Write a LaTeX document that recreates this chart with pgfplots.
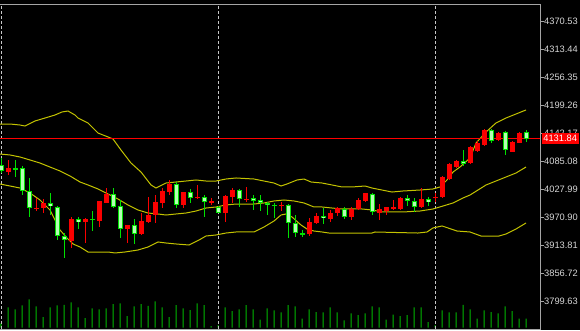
\documentclass[border=0pt]{standalone}
\usepackage{pgfplots}
\pgfplotsset{compat=1.18}
\usepackage{pgfplotstable}
\usepackage{fontspec}
\setmainfont{Liberation Sans}
\definecolor{bandc}{RGB}{195,195,0}
\definecolor{bullc}{RGB}{250,0,0}
\definecolor{bearc}{RGB}{0,225,0}
\definecolor{bearin}{RGB}{180,255,180}
\definecolor{volc}{RGB}{0,185,0}
\definecolor{framec}{RGB}{165,165,165}
\definecolor{labc}{RGB}{215,215,215}
\definecolor{gridc}{RGB}{200,200,200}

% bullish candles (open < close): i open high low close
\pgfplotstableread{
i o h l c
1 4063.3 4087.9 4057.2 4071.5
5 3987.7 4010.2 3983.6 3989.8
6 3989.8 4008.1 3979.5 4000.0
10 3922.3 3971.4 3908.0 3967.3
12 3961.1 3969.3 3918.2 3967.3
14 3963.2 4004.1 3950.9 4004.1
15 4000.0 4030.6 4000.0 4018.4
18 3946.8 3955.0 3918.2 3955.0
20 3936.6 3979.5 3934.6 3963.2
21 3961.1 4012.2 3959.1 3975.4
22 3975.4 4016.3 3959.1 4002.0
23 4000.0 4030.6 3989.8 4024.5
24 4022.5 4047.0 4016.3 4038.8
26 3995.9 4022.5 3989.8 4022.5
28 4011.2 4036.8 4008.1 4012.2
30 4002.0 4009.2 3995.9 4003.0
32 3979.5 4016.3 3961.1 4013.3
33 4012.2 4030.6 4000.0 4026.5
35 4007.1 4032.7 4002.0 4008.1
40 3994.9 4002.0 3983.6 3995.9
44 3936.6 3968.3 3932.5 3961.1
45 3959.1 3979.5 3957.0 3973.4
47 3967.3 3985.7 3961.1 3979.5
48 3978.5 3992.8 3973.4 3989.8
50 3971.4 3991.8 3964.2 3987.7
51 3987.7 4010.2 3985.7 4006.1
52 4004.1 4021.4 4003.0 4019.4
54 3979.5 3997.9 3965.2 3986.7
55 3983.6 3991.8 3975.4 3991.8
56 3987.7 4006.1 3985.7 3991.8
57 3987.7 4012.2 3985.7 4010.2
60 3991.8 4030.6 3989.8 4008.1
62 4011.2 4020.4 4002.0 4012.2
63 4012.2 4055.2 4011.2 4052.1
64 4049.0 4081.7 4047.0 4078.7
65 4073.6 4087.9 4071.5 4086.8
67 4081.7 4116.5 4079.7 4114.4
68 4106.3 4125.7 4104.2 4122.6
69 4118.5 4151.2 4116.5 4149.2
71 4128.7 4146.1 4126.7 4143.1
73 4105.2 4127.7 4103.2 4124.7
74 4122.6 4145.1 4121.6 4143.1
}\upc

% bearish candles (open > close)
\pgfplotstableread{
i o h l c
0 4077.6 4092.0 4061.3 4065.4
2 4070.5 4087.9 4053.1 4068.4
3 4071.5 4075.6 4016.3 4024.5
4 4024.5 4051.1 3971.4 3989.8
7 4000.0 4020.4 3975.4 3993.8
8 3991.8 3993.8 3924.3 3932.5
9 3932.5 3938.7 3887.6 3924.3
11 3967.3 3971.4 3946.8 3961.1
13 3967.3 3983.6 3942.7 3965.2
16 4018.4 4030.6 3989.8 3991.8
17 3993.8 4006.1 3928.4 3946.8
19 3955.0 3967.3 3916.2 3936.6
25 4038.8 4042.9 3989.8 3995.9
27 4022.5 4028.6 4000.0 4011.2
29 4012.2 4016.3 3971.4 4002.0
31 3991.8 3993.8 3978.5 3979.5
34 4026.5 4029.6 3991.8 4008.1
36 4010.2 4016.3 3985.7 4004.1
37 4006.1 4016.3 3982.6 4000.0
38 3999.0 4002.0 3975.4 3994.9
39 3995.9 3999.0 3970.3 3994.9
41 3995.9 3996.9 3928.4 3958.1
42 3959.1 3975.4 3930.5 3938.7
43 3938.7 3944.8 3930.5 3935.6
46 3973.4 3989.8 3957.0 3968.3
49 3988.7 3992.8 3967.3 3971.4
53 4018.4 4020.4 3975.4 3980.6
58 4010.2 4016.3 3993.8 4004.1
59 4004.1 4010.2 3981.6 3991.8
61 4008.1 4012.2 3993.8 4002.0
66 4086.8 4109.3 4074.6 4080.7
70 4149.2 4152.2 4122.6 4127.7
72 4144.1 4147.1 4098.1 4107.3
75 4144.1 4148.2 4124.7 4131.8
}\dnc

% tick volume
\pgfplotstableread{
i v
0 130
1 610
2 550
3 670
4 850
5 640
6 320
7 610
8 670
9 690
10 760
11 610
12 290
13 580
14 550
15 580
16 710
17 730
18 350
19 640
20 710
21 660
22 790
23 610
24 320
25 680
26 580
27 530
28 730
29 680
30 50
31 80
32 610
33 500
34 550
35 680
36 550
37 240
38 580
39 520
40 460
41 680
42 640
43 270
44 550
45 470
46 460
47 610
48 460
49 220
50 430
51 380
52 430
53 640
54 610
55 240
56 390
57 350
58 380
59 610
60 610
61 170
62 80
63 520
64 460
65 460
66 690
67 550
68 270
69 520
70 470
71 430
72 640
73 500
74 270
75 270
}\vol

\begin{document}
\begin{tikzpicture}[x=1pt,y=1pt]
\useasboundingbox (0,-1) rectangle (580,329);
\fill[black] (0,-1) rectangle (580,329);

% volume pane
\begin{axis}[
  at={(0,0)}, anchor=south west, scale only axis,
  width=540pt, height=324pt,
  xmin=-0.142857, xmax=77, ymin=-40, ymax=9720,
  hide axis,
]
\addplot[ybar, bar width=1pt, bar shift=0pt, fill=volc, draw=none] table[x=i, y=v] {\vol};
\end{axis}

% price pane
\begin{axis}[
  at={(0,0)}, anchor=south west, scale only axis,
  width=540pt, height=324pt,
  xmin=-0.142857, xmax=77, ymin=3742.4, ymax=4404.7,
  axis line style={draw=none},
  xtick={0,31,62}, xticklabels={}, xmajorgrids,
  xtick style={draw=none},
  major grid style={draw=gridc, dash pattern=on 3pt off 2pt, line width=0.9pt},
  ytick={3799.63,3856.72,3913.81,3970.90,4027.99,4085.08,4142.17,4199.26,4256.35,4313.44,4370.53},
  yticklabels={3799.63,3856.72,3913.81,3970.90,4027.99,4085.08,4142.17,4199.26,4256.35,4313.44,4370.53},
  ytick pos=right, yticklabel pos=right,
  tick align=outside, major tick length=3.5pt,
  ytick style={draw=framec, line width=0.8pt},
  yticklabel style={font=\fontsize{9.3}{10}\selectfont, text=labc, inner sep=0.5pt},
  clip mode=individual,
]
% Bollinger bands
\addplot[bandc, line width=1pt, mark=none] coordinates {
(-0.14,4161.4) (1.29,4161.4) (2.71,4159.4) (3.43,4157.3) (4.86,4167.6) (6.29,4173.7)
(7.71,4179.8) (8.71,4186.0) (9.57,4188.0) (10.57,4179.8) (11.0,4173.7) (12.43,4163.5)
(13.86,4143.0) (15.29,4134.9) (16.0,4130.8) (17.14,4108.3) (18.57,4081.7) (20.0,4063.3)
(21.43,4036.8) (22.14,4030.6) (23.57,4040.8) (25.0,4042.9) (26.43,4044.9) (27.86,4047.0)
(29.29,4044.9) (30.71,4044.9) (32.14,4049.0) (33.57,4051.1) (36.14,4049.0) (37.57,4044.9)
(39.0,4040.8) (40.0,4034.7) (40.86,4038.8) (42.29,4047.0) (43.29,4049.0) (44.29,4042.9)
(45.86,4040.8) (47.29,4036.8) (48.71,4032.7) (50.14,4032.7) (52.0,4034.7) (53.0,4030.6)
(54.43,4026.5) (55.86,4022.4) (57.43,4024.5) (59.86,4026.5) (61.71,4028.6) (62.71,4032.7)
(63.71,4047.0) (64.57,4063.3) (65.57,4073.5) (67.0,4091.9) (67.86,4122.6) (69.29,4145.1)
(70.71,4163.5) (72.14,4173.7) (73.57,4181.9) (75.0,4190.1)};
\addplot[bandc, line width=1pt, mark=none] coordinates {
(-0.14,4100.1) (1.29,4098.1) (2.71,4094.0) (4.14,4087.9) (5.57,4081.7) (7.0,4073.5)
(8.43,4065.4) (9.86,4055.2) (11.29,4042.9) (12.43,4036.8) (13.86,4028.6) (15.29,4018.4)
(16.71,4008.1) (18.14,3995.9) (19.57,3985.7) (21.0,3979.5) (22.43,3977.5) (23.57,3975.4)
(25.0,3977.5) (26.43,3979.5) (27.86,3983.6) (29.29,3989.7) (30.71,3991.8) (32.14,3995.9)
(33.57,3997.9) (36.14,3997.9) (37.57,4000.0) (39.0,4004.1) (40.43,4006.1) (41.86,4004.1)
(43.29,4000.0) (44.71,3991.8) (45.86,3991.8) (47.29,3989.7) (48.71,3987.7) (51.57,3987.7)
(53.0,3985.7) (54.43,3981.6) (55.86,3981.6) (57.43,3981.6) (59.86,3983.6) (61.71,3987.7)
(63.14,3993.8) (64.57,4000.0) (66.0,4010.2) (67.0,4016.3) (69.29,4036.8) (70.71,4044.9)
(72.14,4053.1) (73.57,4061.3) (75.0,4073.5)};
\addplot[bandc, line width=1pt, mark=none] coordinates {
(-0.14,4038.8) (1.29,4034.7) (2.71,4030.6) (4.14,4020.4) (5.57,4006.1) (7.0,3985.7)
(7.71,3965.2) (8.43,3944.8) (9.43,3928.4) (10.29,3916.2) (11.29,3910.0) (12.43,3899.8)
(15.29,3899.8) (16.29,3897.8) (17.71,3899.8) (19.57,3903.9) (21.0,3910.0) (22.43,3920.3)
(23.57,3918.2) (25.0,3916.2) (26.86,3914.1) (28.29,3924.3) (29.29,3932.5) (30.71,3934.6)
(32.14,3938.6) (33.57,3940.7) (36.14,3940.7) (37.57,3950.9) (39.0,3963.2) (40.0,3975.4)
(40.71,3977.5) (41.57,3971.4) (42.86,3955.0) (43.71,3946.8) (44.71,3942.7) (45.86,3940.7)
(46.86,3938.6) (53.0,3938.6) (53.43,3940.7) (59.57,3938.6) (60.86,3940.7) (61.71,3948.9)
(63.0,3953.0) (63.86,3948.9) (65.14,3942.7) (67.0,3940.7) (68.57,3932.5) (71.14,3932.5)
(72.14,3936.6) (73.57,3946.8) (75.0,3959.1)};

% current price line
\addplot[red, line width=1pt, mark=none] coordinates {(-1,4131.84) (78,4131.84)};

% wicks
\addplot[draw=none, mark=none, error bars/.cd, y dir=both, y explicit, error mark=none,
  error bar style={draw=bullc, line width=1pt}]
  table[x=i, y expr={(\thisrow{h}+\thisrow{l})/2}, y error expr={(\thisrow{h}-\thisrow{l})/2}] {\upc};
\addplot[draw=none, mark=none, error bars/.cd, y dir=both, y explicit, error mark=none,
  error bar style={draw=bearc, line width=1pt}]
  table[x=i, y expr={(\thisrow{h}+\thisrow{l})/2}, y error expr={(\thisrow{h}-\thisrow{l})/2}] {\dnc};
% bodies
\addplot[draw=none, mark=none, error bars/.cd, y dir=both, y explicit, error mark=none,
  error bar style={draw=bullc, line width=5pt}]
  table[x=i, y expr={(\thisrow{o}+\thisrow{c})/2}, y error expr={max(abs(\thisrow{c}-\thisrow{o})/2,1.0)}] {\upc};
\addplot[draw=none, mark=none, error bars/.cd, y dir=both, y explicit, error mark=none,
  error bar style={draw=bearc, line width=5pt}]
  table[x=i, y expr={(\thisrow{o}+\thisrow{c})/2}, y error expr={max(abs(\thisrow{c}-\thisrow{o})/2,1.0)}] {\dnc};
\addplot[draw=none, mark=none, error bars/.cd, y dir=both, y explicit, error mark=none,
  error bar style={draw=bearin, line width=3pt}]
  table[x=i, y expr={(\thisrow{o}+\thisrow{c})/2}, y error expr={max(abs(\thisrow{c}-\thisrow{o})/2-2.044,0)}] {\dnc};

\coordinate (pl) at (axis cs:77,4131.84);
\end{axis}

% frame
\draw[framec, line width=0.8pt] (0,324.4) -- (540.4,324.4) -- (540.4,-0.4) -- (0,-0.4);
% current price label
\node[fill=red, text=white, anchor=west, inner sep=0pt, minimum width=37pt, minimum height=11pt,
  font=\fontsize{9.3}{10}\selectfont] at ([xshift=1.5pt]pl) {4131.84};
\end{tikzpicture}
\end{document}
